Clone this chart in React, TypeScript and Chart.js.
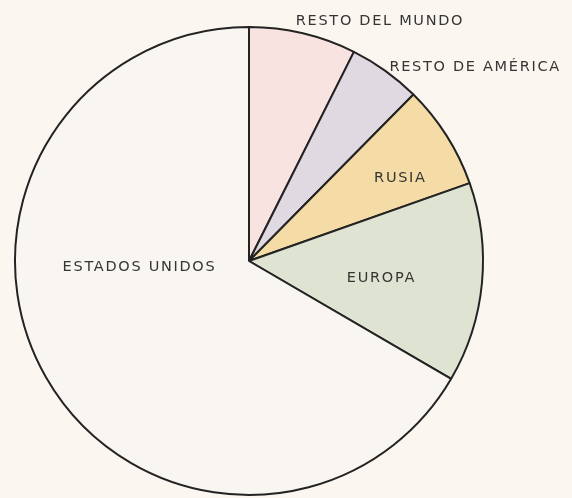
import React, { useEffect, useRef } from "react";
import { Chart, registerables } from "chart.js";

Chart.register(...registerables);

const categories = ["RESTO DEL MUNDO", "RESTO DE AMÉRICA", "RUSIA", "EUROPA", "ESTADOS UNIDOS"];
const values = [7.4, 5.0, 7.2, 13.8, 66.6];
const sliceColors = ["#f8e3e0", "#e0d9e2", "#f5dca6", "#dfe3d2", "#f9f5f0"];

// label placement relative to pie centre, in units of radius
const labelOffsets = [
  { fx: 0.2, fy: -1.026, align: "left" },
  { fx: 0.6, fy: -0.829, align: "left" },
  { fx: 0.647, fy: -0.355, align: "center" },
  { fx: 0.566, fy: 0.073, align: "center" },
  { fx: -0.468, fy: 0.026, align: "center" },
];

const bgPlugin = {
  id: "bgFill",
  beforeDraw(chart: any) {
    const { ctx, width, height } = chart;
    ctx.save();
    ctx.fillStyle = "#fbf7f0";
    ctx.fillRect(0, 0, width, height);
    ctx.restore();
  },
};

const labelPlugin = {
  id: "sliceLabels",
  afterDatasetsDraw(chart: any) {
    const meta = chart.getDatasetMeta(0);
    const arc = meta.data[0];
    if (!arc) return;
    const { x, y, outerRadius } = arc.getProps(["x", "y", "outerRadius"], true);
    const ctx = chart.ctx;
    ctx.save();
    ctx.font = "14.5px 'DejaVu Sans'";
    ctx.fillStyle = "#353535";
    ctx.textBaseline = "middle";
    (ctx as any).letterSpacing = "1.7px";
    categories.forEach((label, i) => {
      const o = labelOffsets[i];
      ctx.textAlign = o.align;
      ctx.fillText(label, x + o.fx * outerRadius, y + o.fy * outerRadius);
    });
    ctx.restore();
  },
};

export default function App() {
  const ref = useRef<HTMLCanvasElement>(null);
  useEffect(() => {
    if (!ref.current) return;
    const chart = new Chart(ref.current, {
      type: "pie",
      data: {
        labels: categories,
        datasets: [
          {
            data: values,
            backgroundColor: sliceColors,
            borderColor: "#232323",
            borderWidth: 2,
          },
        ],
      },
      options: {
        responsive: false,
        animation: false,
        layout: { padding: { left: 14, top: 26, right: 88, bottom: 2 } },
        plugins: {
          legend: { display: false },
          tooltip: { enabled: false },
        },
      },
      plugins: [bgPlugin, labelPlugin],
    });
    return () => chart.destroy();
  }, []);
  return (
    <div style={{ position: "absolute", left: 0, top: 0, width: 572, height: 498, background: "#fbf7f0" }}>
      <canvas ref={ref} width={572} height={498} />
    </div>
  );
}
